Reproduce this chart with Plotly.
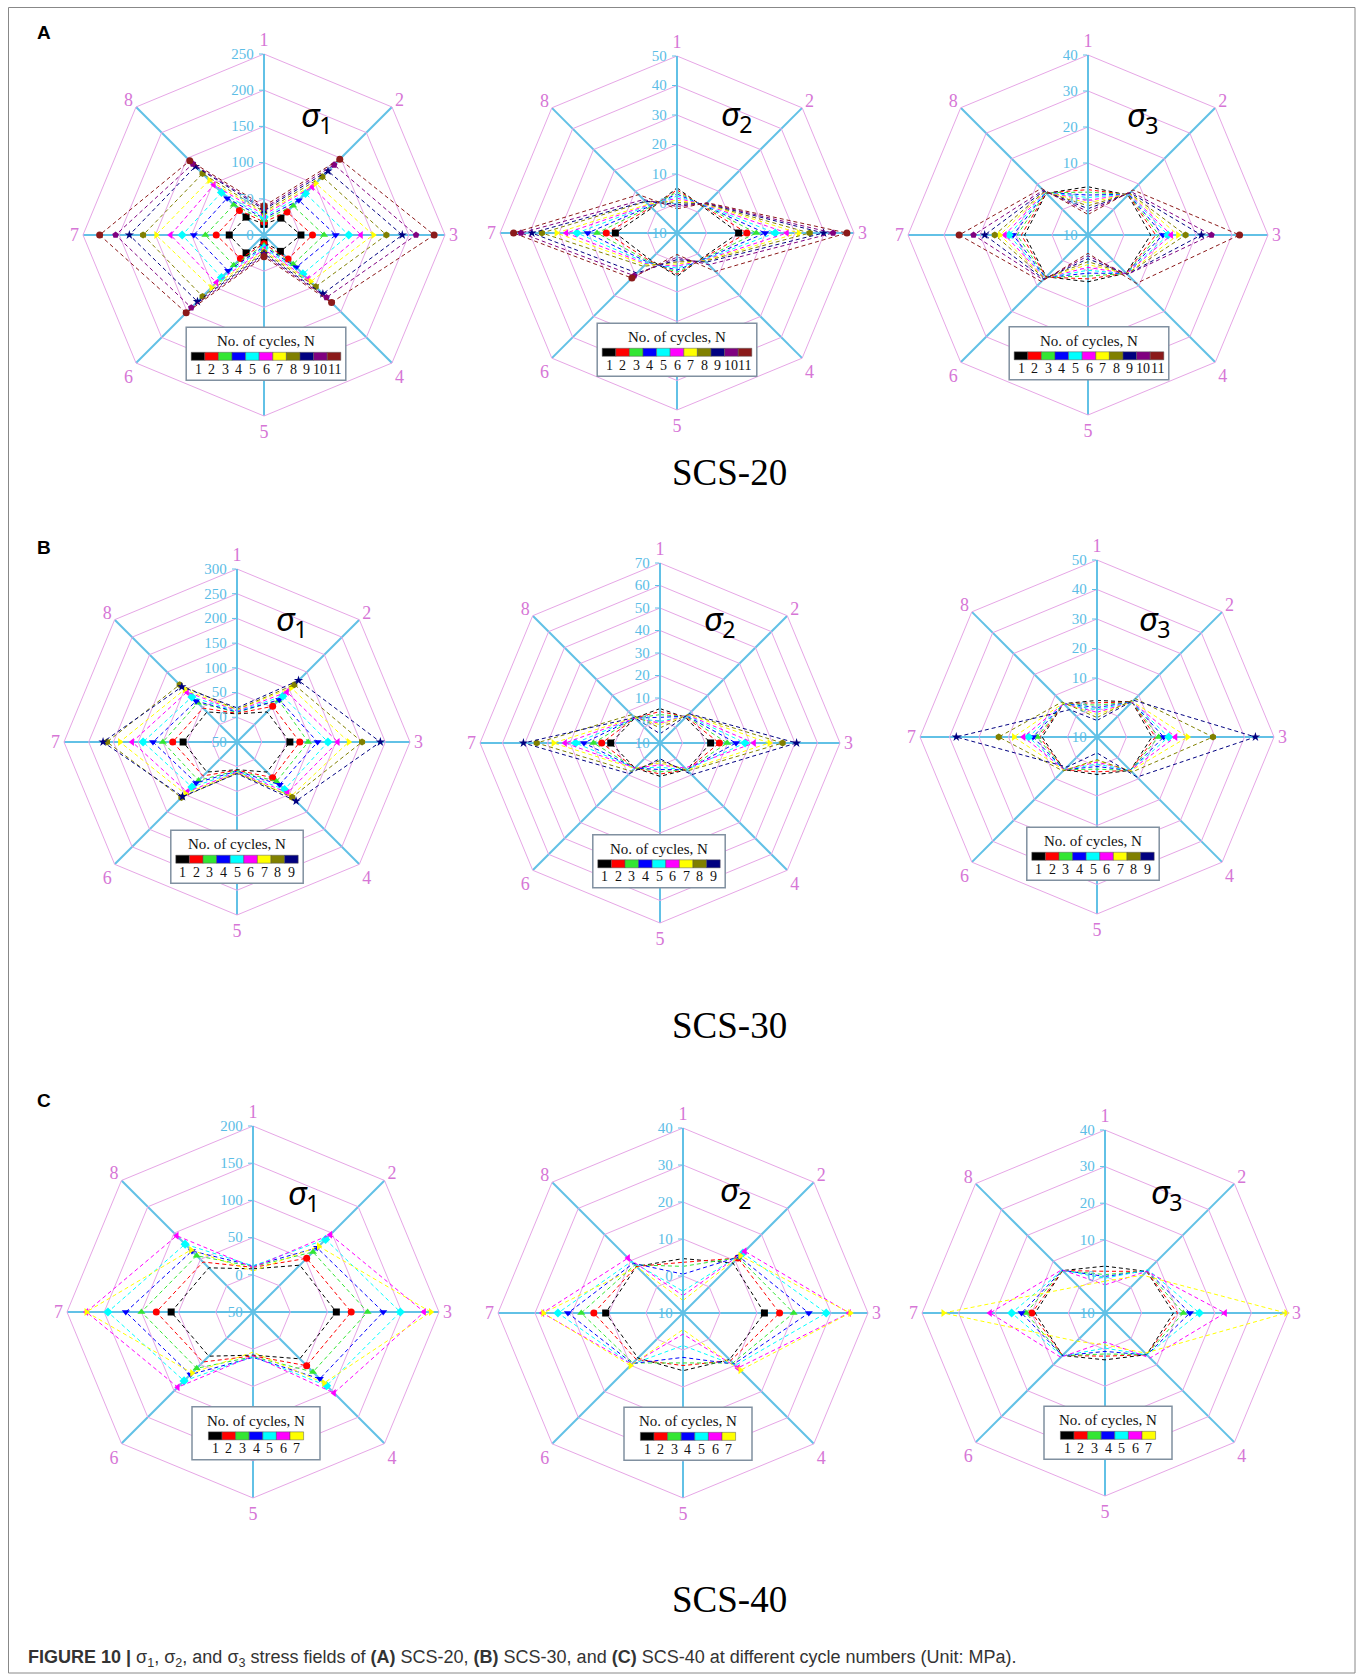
import plotly.graph_objects as go

W, H = 1363, 1679

# Eight monitoring directions around the specimen
AXES = ["1", "2", "3", "4", "5", "6", "7", "8"]

# Colours / symbols for cycle numbers N = 1..11
CYCLE_COLORS = ["#000000", "#ff0000", "#33e633", "#0000ff", "#00ffff", "#ff00ff",
                "#ffff00", "#808000", "#000080", "#800080", "#8b1a1a"]
CYCLE_SYMBOLS = ["square", "circle", "triangle-up", "triangle-down", "diamond",
                 "triangle-left", "triangle-right", "hexagon", "star", "pentagon", "circle"]

# Stress values (MPa); one row per cycle, columns = directions 1..8
SCS20_S1 = [
    [15, 33, 51, 32, 10, 35, 48, 35],
    [18, 45, 67, 47, 12, 46, 66, 48],
    [21, 57, 83, 57, 14, 59, 81, 59],
    [23, 68, 99, 63, 16, 70, 97, 72],
    [25, 81, 117, 76, 18, 83, 113, 83],
    [28, 94, 134, 86, 20, 93, 129, 98],
    [30, 101, 151, 91, 22, 103, 149, 107],
    [32, 114, 169, 101, 24, 120, 167, 120],
    [35, 125, 191, 115, 26, 130, 186, 134],
    [37, 137, 210, 122, 28, 142, 205, 139],
    [40, 148, 235, 132, 30, 152, 227, 145],
]
SCS20_S2 = [
    [5.3, 2.5, 10.9, 2.0, 4.7, 2.8, 10.9, 2.0],
    [4.6, 2.7, 13.7, 2.2, 4.0, 3.2, 14.0, 2.3],
    [3.9, 2.9, 16.9, 2.4, 3.3, 3.6, 17.1, 2.6],
    [3.2, 3.1, 19.9, 2.6, 2.6, 4.0, 20.3, 2.9],
    [2.5, 3.3, 23.3, 2.8, 1.9, 4.4, 23.9, 3.2],
    [1.8, 3.5, 27.3, 3.0, 1.2, 4.8, 27.5, 3.5],
    [1.1, 3.7, 31.2, 3.2, 0.5, 5.2, 30.9, 3.8],
    [0.4, 3.9, 35.0, 3.5, -0.2, 6.0, 35.8, 5.0],
    [-0.3, 4.1, 39.7, 4.0, -1.0, 9.2, 39.2, 5.2],
    [-1.0, 4.3, 42.9, 5.2, -1.8, 10.5, 42.9, 6.0],
    [-1.8, 4.5, 47.6, 8.4, -2.7, 11.6, 45.4, 8.4],
]
SCS20_S3 = [
    [3.4, 5.7, 7.4, 5.0, 3.0, 6.4, 7.6, 6.4],
    [2.6, 5.8, 8.8, 5.0, 2.2, 6.5, 8.5, 6.5],
    [1.9, 5.9, 9.7, 5.1, 1.4, 6.6, 9.7, 6.6],
    [1.1, 6.0, 10.8, 5.1, 0.6, 6.7, 10.8, 6.7],
    [0.4, 6.1, 12.2, 5.2, -0.2, 6.8, 11.9, 6.8],
    [-0.4, 6.2, 13.1, 5.2, -1.0, 6.9, 13.1, 6.9],
    [-1.1, 6.3, 15.0, 5.3, -1.8, 7.0, 14.5, 7.0],
    [-1.9, 6.4, 17.1, 5.3, -2.6, 7.1, 15.9, 7.1],
    [-2.7, 6.6, 21.5, 5.4, -3.4, 7.3, 18.7, 7.3],
    [-3.5, 7.0, 24.3, 5.5, -4.2, 7.6, 21.8, 7.6],
    [-4.3, 7.7, 32.1, 9.0, -4.9, 8.3, 25.8, 8.3],
]
SCS30_S1 = [
    [7, 36, 57, 36, 6, 36, 59, 36],
    [8, 52, 77, 52, 7, 47, 80, 47],
    [10, 69, 94, 63, 8, 60, 100, 62],
    [11, 71, 113, 72, 9, 67, 120, 67],
    [12, 81, 134, 86, 10, 79, 140, 79],
    [13, 93, 154, 95, 11, 93, 162, 93],
    [15, 105, 176, 105, 12, 98, 187, 100],
    [16, 114, 203, 108, 13, 109, 213, 114],
    [19, 126, 240, 119, 14, 106, 221, 108],
]
SCS30_S2 = [
    [5.3, 6.0, 12.5, 6.8, 4.8, 5.7, 11.9, 5.7],
    [4.0, 6.3, 16.4, 6.8, 3.8, 5.7, 15.9, 5.7],
    [2.6, 6.6, 19.9, 6.8, 2.8, 5.7, 19.6, 5.7],
    [1.4, 6.9, 23.8, 6.8, 1.8, 5.7, 23.8, 5.7],
    [-0.4, 7.2, 27.8, 6.8, 0.8, 5.7, 27.5, 5.7],
    [-1.1, 7.5, 31.8, 5.7, -0.2, 5.7, 32.2, 5.7],
    [-1.9, 7.8, 38.6, 7.0, -1.2, 6.0, 37.4, 6.0],
    [-3.3, 8.1, 44.5, 7.5, -2.2, 7.8, 44.8, 7.8],
    [-5.9, 8.4, 50.7, 9.9, -3.0, 9.3, 50.7, 6.0],
]
SCS30_S3 = [
    [2.4, 6.8, 8.6, 6.0, 2.7, 5.7, 8.6, 6.0],
    [1.6, 6.8, 9.8, 6.0, 1.8, 5.7, 9.4, 6.0],
    [0.8, 6.8, 10.9, 6.0, 0.9, 5.7, 10.3, 6.0],
    [0.0, 6.8, 12.6, 6.0, 0.0, 5.7, 11.7, 6.0],
    [-0.8, 6.8, 14.3, 6.0, -0.8, 5.7, 13.2, 6.0],
    [-1.6, 6.8, 16.6, 6.0, -1.5, 5.7, 14.9, 6.0],
    [-2.4, 7.0, 20.7, 6.2, -2.0, 5.9, 18.2, 6.2],
    [-3.4, 8.4, 29.3, 6.8, -2.3, 6.3, 23.3, 6.8],
    [-4.4, 7.6, 43.7, 9.2, -4.6, 4.4, 37.7, 3.1],
]
SCS40_S1 = [
    [8, 39, 62, 39, 8, 34, 60, 34],
    [10, 52, 82, 52, 9, 45, 80, 45],
    [11, 64, 104, 64, 10, 57, 100, 57],
    [12, 72, 125, 77, 11, 69, 121, 66],
    [12, 88, 148, 90, 10, 81, 145, 79],
    [10, 97, 180, 104, 9, 93, 174, 95],
    [5, 75, 189, 85, 4, 66, 174, 68],
]
SCS40_S2 = [
    [4.7, 9.1, 12.0, 7.8, 5.6, 7.2, 10.9, 7.8],
    [3.7, 11.0, 16.1, 8.2, 4.2, 7.8, 14.1, 7.8],
    [2.6, 11.2, 19.9, 9.1, 3.5, 9.1, 17.5, 8.4],
    [0.5, 11.5, 24.0, 9.5, 2.0, 9.3, 21.1, 9.0],
    [-4.1, 12.9, 28.7, 10.0, -1.2, 9.6, 23.8, 9.7],
    [-5.3, 13.6, 34.9, 11.0, -4.3, 9.6, 28.0, 11.0],
    [-6.6, 11.9, 35.2, 11.9, -5.5, 10.1, 27.8, 7.5],
]
SCS40_S3 = [
    [2.8, 6.1, 8.7, 6.1, 2.8, 6.4, 9.1, 6.4],
    [1.4, 6.1, 9.8, 6.1, 1.8, 6.4, 10.0, 6.4],
    [0.5, 6.2, 11.4, 6.1, 1.2, 6.5, 11.6, 6.4],
    [0.0, 6.3, 13.2, 6.2, 0.5, 6.5, 12.8, 6.5],
    [-0.5, 6.7, 15.8, 6.2, -0.4, 6.6, 15.5, 6.5],
    [-2.3, 6.1, 22.8, 7.4, -2.1, 7.1, 21.4, 6.7],
    [-1.3, 4.6, 39.5, 5.5, -1.3, 0.9, 34.2, 0.3],
]

# Radial scales: (min, max, step)
SCALES = {
    "SCS20_S1": (0, 250, 50), "SCS20_S2": (-10, 50, 10), "SCS20_S3": (-10, 40, 10),
    "SCS30_S1": (-50, 300, 50), "SCS30_S2": (-10, 70, 10), "SCS30_S3": (-10, 50, 10),
    "SCS40_S1": (-50, 200, 50), "SCS40_S2": (-10, 40, 10), "SCS40_S3": (-10, 40, 10),
}

RING = "#e6a6e6"
SPOKE = "#62c1e6"
VIOLET = "#d676d6"
TICKBLUE = "#5bbde6"
SERIF = "Liberation Serif"

# Panel geometry in pixels: data, key, subscript, centre x, centre y, radius,
# sigma-label offset, key-box horizontal offset
PANELS = [
    (SCS20_S1, "SCS20_S1", "1", 264, 235, 181, (53, -118), 2),
    (SCS20_S2, "SCS20_S2", "2", 677, 233, 177, (60, -117), 0),
    (SCS20_S3, "SCS20_S3", "3", 1088, 235, 180, (55, -118), 1),
    (SCS30_S1, "SCS30_S1", "1", 237, 742, 173, (55, -122), 0),
    (SCS30_S2, "SCS30_S2", "2", 660, 743, 180, (60, -123), -1),
    (SCS30_S3, "SCS30_S3", "3", 1097, 737, 177, (58, -116), -4),
    (SCS40_S1, "SCS40_S1", "1", 253, 1312, 186, (51, -118), 3),
    (SCS40_S2, "SCS40_S2", "2", 683, 1313, 185, (53, -122), 5),
    (SCS40_S3, "SCS40_S3", "3", 1105, 1313, 183, (62, -120), 3),
]


def px(x):
    return x / W


def py(y):
    return 1 - y / H


def label(x, y, text, font, xanchor="center"):
    return dict(x=px(x), y=py(y), xref="paper", yref="paper", text=text,
                showarrow=False, xanchor=xanchor, yanchor="middle", font=font)


fig = go.Figure()
shapes = []
annotations = []

for k, (data, key, sub, cx, cy, R, toff, loff) in enumerate(PANELS, start=1):
    pid = "polar" if k == 1 else f"polar{k}"
    rmin, rmax, step = SCALES[key]
    for i, row in enumerate(data):
        fig.add_trace(go.Scatterpolar(
            r=row + [row[0]], theta=AXES + [AXES[0]],
            mode="lines+markers", subplot=pid, showlegend=False,
            line=dict(color=CYCLE_COLORS[i], width=1, dash="4px,3px"),
            marker=dict(color=CYCLE_COLORS[i], symbol=CYCLE_SYMBOLS[i], size=7,
                        line=dict(width=0)),
        ))
    fig.update_layout(**{pid: dict(
        domain=dict(x=[px(cx - R), px(cx + R)], y=[py(cy + R), py(cy - R)]),
        bgcolor="white",
        gridshape="linear",
        radialaxis=dict(
            range=[rmin, rmax], tickvals=list(range(rmin, rmax + 1, step)),
            showline=True, linecolor=SPOKE, linewidth=2,
            gridcolor=RING, gridwidth=1,
            ticks="outside", ticklen=4, tickcolor=SPOKE,
            tickfont=dict(color=TICKBLUE, size=15, family=SERIF),
            angle=90, tickangle=90, side="counterclockwise",
        ),
        angularaxis=dict(
            type="category", categoryarray=AXES, direction="clockwise", rotation=90,
            showline=True, linecolor=RING, linewidth=1,
            gridcolor=SPOKE, gridwidth=2, ticks="",
            tickfont=dict(color=VIOLET, size=18, family=SERIF),
        ),
    )})

    # sigma label
    annotations.append(label(cx + toff[0], cy + toff[1], f"<i>σ</i><sub>{sub}</sub>",
                             dict(family="Noto Sans", size=33, color="black")))

    # cycle-number key
    n = len(data)
    sw = 13.6
    bw = max(n * sw + 10, 128)
    top = cy + 0.51 * R
    bx0 = cx + loff - bw / 2
    shapes.append(dict(type="rect", xref="paper", yref="paper",
                       x0=px(bx0), x1=px(bx0 + bw), y0=py(top + 53), y1=py(top),
                       fillcolor="white", line=dict(color="#8090a0", width=1.5)))
    annotations.append(label(cx + loff, top + 14, "No. of cycles, N",
                             dict(family=SERIF, size=15, color="#111111")))
    sx0 = cx + loff - n * sw / 2
    for i in range(n):
        shapes.append(dict(type="rect", xref="paper", yref="paper",
                           x0=px(sx0 + i * sw), x1=px(sx0 + (i + 1) * sw),
                           y0=py(top + 33), y1=py(top + 25),
                           fillcolor=CYCLE_COLORS[i], line=dict(color="#555555", width=0.5)))
        annotations.append(label(sx0 + (i + 0.5) * sw, top + 42, str(i + 1),
                                 dict(family=SERIF, size=14, color="#111111")))

# Row labels and specimen names
for letter, y in (("A", 32), ("B", 547), ("C", 1100)):
    annotations.append(label(44, y, f"<b>{letter}</b>",
                             dict(family="Liberation Sans", size=19, color="black")))
for name, y in (("SCS-20", 472), ("SCS-30", 1025), ("SCS-40", 1599)):
    annotations.append(label(729, y, name, dict(family=SERIF, size=37, color="black")))

annotations.append(label(
    26, 1658,
    "<b>FIGURE 10 |</b> σ<sub>1</sub>, σ<sub>2</sub>, and σ<sub>3</sub> stress fields of "
    "<b>(A)</b> SCS-20, <b>(B)</b> SCS-30, and <b>(C)</b> SCS-40 at different cycle numbers (Unit: MPa).",
    dict(family="Liberation Sans", size=18, color="#333333"), xanchor="left"))

shapes.append(dict(type="rect", xref="paper", yref="paper",
                   x0=px(8.5), x1=px(1355), y0=py(1673), y1=py(7.5),
                   line=dict(color="#888888", width=1), layer="below"))

fig.update_layout(
    width=W, height=H, autosize=False,
    margin=dict(l=0, r=0, t=0, b=0),
    paper_bgcolor="white", plot_bgcolor="white",
    shapes=shapes, annotations=annotations,
)

fig.write_html("out.html")
